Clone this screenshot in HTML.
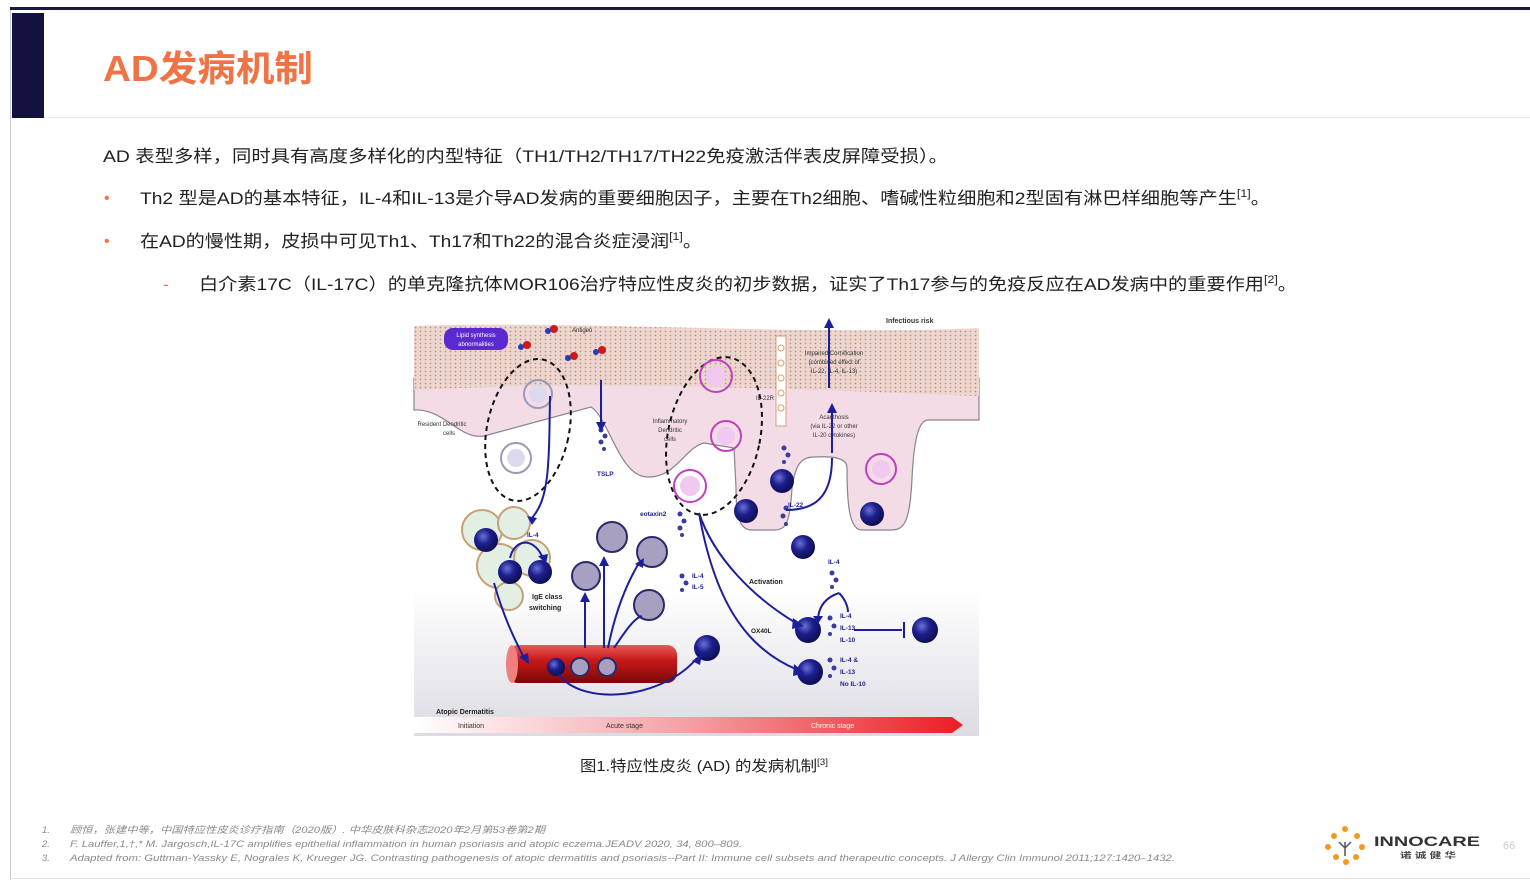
<!DOCTYPE html>
<html><head><meta charset="utf-8"><style>
html,body{margin:0;padding:0;background:#fff;}
svg{display:block;}
</style></head><body>
<svg width="1530" height="889" viewBox="0 0 1530 889" xmlns="http://www.w3.org/2000/svg" font-family="'Liberation Sans','Noto Sans CJK SC',sans-serif">
<defs>
<radialGradient id="cell" cx="0.38" cy="0.35" r="0.7"><stop offset="0" stop-color="#6a70d8"/><stop offset="0.45" stop-color="#1c1f8c"/><stop offset="1" stop-color="#0c0d4a"/></radialGradient>
<linearGradient id="bg" x1="0" y1="0" x2="0" y2="1"><stop offset="0.65" stop-color="#ffffff"/><stop offset="1" stop-color="#dcdbe3"/></linearGradient>
<linearGradient id="bar" x1="0" y1="0" x2="1" y2="0"><stop offset="0" stop-color="#fff"/><stop offset="0.5" stop-color="#f4a0a4"/><stop offset="1" stop-color="#ec1c24"/></linearGradient>
<linearGradient id="ves" x1="0" y1="0" x2="0" y2="1"><stop offset="0" stop-color="#e85a5a"/><stop offset="0.4" stop-color="#c81818"/><stop offset="1" stop-color="#7a0808"/></linearGradient>
<pattern id="dots" width="5" height="4" patternUnits="userSpaceOnUse"><rect width="5" height="4" fill="#ecd6cf"/><circle cx="1.5" cy="1.5" r="0.9" fill="#c09080"/></pattern>
</defs>
<rect x="10" y="7" width="1520" height="3" fill="#1a1a40"/>
<rect x="10" y="10" width="1" height="870" fill="#c8c8d0"/>
<rect x="12" y="13" width="32" height="105" fill="#13123f"/>
<rect x="44" y="117" width="1486" height="1" fill="#ececf0"/>
<rect x="10" y="878" width="1520" height="1" fill="#e4e4e8"/>
<text x="103" y="81" font-size="36" font-weight="bold" fill="#f07345" textLength="210" lengthAdjust="spacingAndGlyphs">AD发病机制</text>
<text x="103" y="162" font-size="17" fill="#222" textLength="845" lengthAdjust="spacingAndGlyphs">AD 表型多样，同时具有高度多样化的内型特征（TH1/TH2/TH17/TH22免疫激活伴表皮屏障受损）。</text>
<text x="104" y="203" font-size="16" fill="#f07345">•</text>
<text x="140" y="204" font-size="17" fill="#222" textLength="1130" lengthAdjust="spacingAndGlyphs">Th2 型是AD的基本特征，IL-4和IL-13是介导AD发病的重要细胞因子，主要在Th2细胞、嗜碱性粒细胞和2型固有淋巴样细胞等产生<tspan font-size="11" dy="-7">[1]</tspan><tspan dy="7">。</tspan></text>
<text x="104" y="246" font-size="16" fill="#f07345">•</text>
<text x="140" y="247" font-size="17" fill="#222" textLength="562" lengthAdjust="spacingAndGlyphs">在AD的慢性期，皮损中可见Th1、Th17和Th22的混合炎症浸润<tspan font-size="11" dy="-7">[1]</tspan><tspan dy="7">。</tspan></text>
<text x="163" y="290" font-size="17" fill="#f07345">-</text>
<text x="199" y="290" font-size="17" fill="#222" textLength="1098" lengthAdjust="spacingAndGlyphs">白介素17C（IL-17C）的单克隆抗体MOR106治疗特应性皮炎的初步数据，证实了Th17参与的免疫反应在AD发病中的重要作用<tspan font-size="11" dy="-7">[2]</tspan><tspan dy="7">。</tspan></text>

<g transform="translate(414,318)">
<rect width="565" height="418" fill="url(#bg)"/>
<path d="M0,60 L565,60 L565,102 L514,102 C505,102 500,120 498,160 C496,205 490,212 477,212 L448,212 C436,212 433,190 433,150 C433,140 420,138 400,139 C385,139 381,150 378,170 C376,205 372,212 360,212 L338,212 C326,212 322,200 322,170 L320,130 L290,125 C270,130 262,160 233,159 C205,158 195,100 177,89 L70,118 C45,122 30,90 0,92 Z" fill="#f3dce6" stroke="#8a8490" stroke-width="1.2"/>
<path d="M0,8 C150,2 400,18 565,10 L565,78 C400,72 200,62 0,72 Z" fill="url(#dots)"/>
<rect x="30" y="10" width="64" height="22" rx="9" fill="#5a2ad0"/>
<text x="62" y="19" font-size="6" fill="#fff" text-anchor="middle">Lipid synthesis</text>
<text x="62" y="28" font-size="6" fill="#fff" text-anchor="middle">abnormalities</text>
<g fill="#d01818"><circle cx="140" cy="11" r="4"/><circle cx="113" cy="27" r="4"/><circle cx="160" cy="38" r="4"/><circle cx="188" cy="32" r="4"/></g>
<g fill="#2a3ab8"><circle cx="134" cy="13" r="3"/><circle cx="107" cy="29" r="3"/><circle cx="154" cy="40" r="3"/><circle cx="182" cy="34" r="3"/></g>
<text x="158" y="14" font-size="6" fill="#333">Antigen</text>
<text x="472" y="5" font-size="7" font-weight="bold" fill="#333">Infectious risk</text>
<g stroke="#d9a070" stroke-width="1" fill="#fff"><rect x="362" y="18" width="10" height="90"/>
<circle cx="367" cy="30" r="3"/><circle cx="367" cy="45" r="3"/><circle cx="367" cy="60" r="3"/><circle cx="367" cy="75" r="3"/><circle cx="367" cy="90" r="3"/></g>
<g font-size="6" fill="#333" text-anchor="middle">
<text x="420" y="37">Impaired Cornification</text><text x="420" y="46">(combined effect of</text><text x="420" y="55">IL-22, IL-4, IL-13)</text>
<text x="420" y="101">Acanthosis</text><text x="420" y="110">(via IL-22 or other</text><text x="420" y="119">IL-20 cytokines)</text>
<text x="28" y="108">Resident Dendritic</text><text x="35" y="117">cells</text>
<text x="256" y="105">Inflammatory</text><text x="256" y="114">Dendritic</text><text x="256" y="123">cells</text>
<text x="351" y="82">IL-22R</text>
</g>
<ellipse cx="114" cy="112" rx="41" ry="72" transform="rotate(12 114 112)" fill="none" stroke="#111" stroke-width="2" stroke-dasharray="5,4"/>
<ellipse cx="300" cy="118" rx="46" ry="80" transform="rotate(12 300 118)" fill="none" stroke="#111" stroke-width="2" stroke-dasharray="5,4"/>
<g stroke-width="2" fill="none">
<g stroke="#9a9ab8"><circle cx="124" cy="76" r="14"/><circle cx="102" cy="140" r="15"/></g>
<g stroke="#c040c0"><circle cx="302" cy="58" r="16"/><circle cx="312" cy="118" r="15"/><circle cx="276" cy="168" r="16"/><circle cx="467" cy="151" r="15"/></g>
</g>
<g fill="#dcd8ee"><circle cx="124" cy="76" r="9"/><circle cx="102" cy="140" r="9"/></g>
<g fill="#f0c8f0"><circle cx="302" cy="58" r="10"/><circle cx="312" cy="118" r="9"/><circle cx="276" cy="168" r="10"/><circle cx="467" cy="151" r="9"/></g>
<g fill="#e4efe4" stroke="#c8a078" stroke-width="2"><circle cx="68" cy="212" r="20"/><circle cx="100" cy="205" r="16"/><circle cx="85" cy="248" r="22"/><circle cx="118" cy="240" r="18"/><circle cx="95" cy="278" r="14"/></g>
<rect x="94" y="327" width="169" height="38" rx="10" fill="url(#ves)"/>
<ellipse cx="98" cy="346" rx="6" ry="19" fill="#f08080"/>
<g fill="#a8a0c0" stroke="#2a2a6a" stroke-width="2"><circle cx="198" cy="219" r="15"/><circle cx="238" cy="234" r="15"/><circle cx="172" cy="258" r="14"/><circle cx="235" cy="287" r="15"/><circle cx="166" cy="349" r="9"/><circle cx="193" cy="349" r="9"/></g>
<g fill="url(#cell)"><circle cx="72" cy="222" r="12"/><circle cx="96" cy="254" r="12"/><circle cx="126" cy="254" r="12"/><circle cx="142" cy="349" r="9"/><circle cx="293" cy="330" r="13"/>
<circle cx="368" cy="163" r="12"/><circle cx="332" cy="193" r="12"/><circle cx="458" cy="196" r="12"/><circle cx="389" cy="229" r="12"/><circle cx="394" cy="312" r="13"/><circle cx="511" cy="312" r="13"/><circle cx="396" cy="354" r="13"/></g>
<g fill="#3a3aa0"><circle cx="187" cy="112" r="2.5"/><circle cx="191" cy="118" r="2.5"/><circle cx="187" cy="124" r="2.5"/><circle cx="190" cy="131" r="2"/>
<circle cx="266" cy="196" r="2.5"/><circle cx="270" cy="203" r="2.5"/><circle cx="266" cy="210" r="2.5"/><circle cx="268" cy="217" r="2"/>
<circle cx="370" cy="130" r="2.5"/><circle cx="374" cy="137" r="2.5"/><circle cx="370" cy="144" r="2"/>
<circle cx="372" cy="190" r="2.5"/><circle cx="369" cy="198" r="2.5"/><circle cx="372" cy="206" r="2"/>
<circle cx="268" cy="258" r="2.5"/><circle cx="272" cy="265" r="2.5"/><circle cx="268" cy="272" r="2"/>
<circle cx="418" cy="255" r="2.5"/><circle cx="422" cy="262" r="2.5"/><circle cx="418" cy="269" r="2"/>
<circle cx="416" cy="300" r="2.5"/><circle cx="420" cy="308" r="2.5"/><circle cx="416" cy="316" r="2"/>
<circle cx="416" cy="342" r="2.5"/><circle cx="420" cy="350" r="2.5"/><circle cx="416" cy="358" r="2"/></g>
<g stroke="#1c1f9a" stroke-width="2" fill="none">
<path d="M415,70 V8"/><path d="M418,135 V92"/><path d="M372,192 C400,192 418,180 418,140"/>
<path d="M187,62 V105"/><path d="M136,78 C135,150 135,180 118,200"/>
<path d="M96,240 C100,222 118,218 128,238"/>
<path d="M80,265 C90,300 100,320 110,340"/>
<path d="M171,330 V282"/><path d="M190,330 V246"/><path d="M194,330 C200,300 210,270 225,245"/><path d="M200,330 C210,315 220,300 228,298"/>
<path d="M144,356 C170,390 250,380 283,340"/>
<path d="M285,195 C300,240 340,280 382,305"/>
<path d="M285,195 C300,280 330,330 384,352"/>
<path d="M425,275 C410,280 405,290 404,300"/><path d="M425,275 C432,282 434,290 434,294"/>
<path d="M440,312 H488"/><path d="M490,304 V320"/>
</g>
<g fill="#1c1f9a">
<path d="M410,10 L415,0 L420,10 Z"/><path d="M413,95 L418,85 L423,95 Z"/><path d="M182,104 L187,114 L192,104 Z"/>
<path d="M113,198 L118,207 L123,200 Z"/><path d="M124,238 L132,246 L134,236 Z"/><path d="M105,339 L115,346 L114,335 Z"/>
<path d="M166,284 L171,274 L176,284 Z"/><path d="M185,248 L190,238 L195,248 Z"/><path d="M221,246 L230,240 L229,250 Z"/>
<path d="M278,343 L288,336 L286,347 Z"/><path d="M379,300 L390,308 L378,311 Z"/><path d="M380,346 L391,355 L379,358 Z"/><path d="M399,298 L404,306 L409,298 Z"/>
</g>
<g font-size="6.5" font-weight="bold" fill="#1c1f8c">
<text x="183" y="158">TSLP</text><text x="226" y="198">eotaxin2</text><text x="374" y="189">IL-22</text><text x="113" y="219">IL-4</text>
<text x="278" y="260">IL-4</text><text x="278" y="271">IL-5</text><text x="414" y="246">IL-4</text>
<text x="426" y="300">IL-4</text><text x="426" y="312">IL-13</text><text x="426" y="324">IL-10</text>
<text x="426" y="344">IL-4 &amp;</text><text x="426" y="356">IL-13</text><text x="426" y="368">No IL-10</text>
</g>
<g font-size="7" font-weight="bold" fill="#222"><text x="118" y="281">IgE class</text><text x="115" y="292">switching</text><text x="335" y="266">Activation</text><text x="337" y="315" font-size="6.5">OX40L</text></g>
<path d="M0,399 H538 L549,407 L538,415 H0 Z" fill="url(#bar)"/>
<text x="22" y="396" font-size="7" font-weight="bold" fill="#222">Atopic Dermatitis</text>
<g font-size="7" fill="#333"><text x="44" y="410">Initiation</text><text x="192" y="410">Acute stage</text><text x="397" y="410" fill="#fff">Chronic stage</text></g>
</g>

<text x="580" y="771" font-size="15" fill="#222" textLength="248" lengthAdjust="spacingAndGlyphs">图1.特应性皮炎 (AD) 的发病机制<tspan font-size="9" dy="-6">[3]</tspan></text>

<g font-size="9.5" font-style="italic" fill="#8a8a8a">
<text x="42" y="833">1.</text><text x="42" y="847">2.</text><text x="42" y="861">3.</text>
<text x="70" y="833" textLength="475" lengthAdjust="spacingAndGlyphs">顾恒，张建中等，中国特应性皮炎诊疗指南（2020版）. 中华皮肤科杂志2020年2月第53卷第2期</text>
<text x="70" y="847" textLength="672" lengthAdjust="spacingAndGlyphs">F. Lauffer,1,†,* M. Jargosch,IL-17C amplifies epithelial inflammation in human psoriasis and atopic eczema.JEADV 2020, 34, 800–809.</text>
<text x="70" y="861" textLength="1105" lengthAdjust="spacingAndGlyphs">Adapted from: Guttman-Yassky E, Nograles K, Krueger JG. Contrasting pathogenesis of atopic dermatitis and psoriasis--Part II: Immune cell subsets and therapeutic concepts. J Allergy Clin Immunol 2011;127:1420–1432.</text>
</g>
<g fill="#f39a1e"><circle cx="1345" cy="829" r="3"/><circle cx="1334" cy="836" r="3"/><circle cx="1357" cy="836" r="3"/><circle cx="1328" cy="847" r="3"/><circle cx="1362" cy="847" r="3"/><circle cx="1336" cy="857" r="3"/><circle cx="1356" cy="857" r="3"/><circle cx="1346" cy="862" r="3"/></g>
<path d="M1345,856 V842 M1345,848 L1339,842 M1345,848 L1351,842" stroke="#555" stroke-width="1.5" fill="none"/>
<text x="1374" y="846" font-size="14" font-weight="bold" fill="#333" textLength="106" lengthAdjust="spacingAndGlyphs">INNOCARE</text>
<text x="1400" y="858" font-size="8" font-weight="bold" fill="#444" textLength="56" lengthAdjust="spacingAndGlyphs">诺 诚 健 华</text>
<text x="1503" y="849" font-size="11" fill="#ccc">66</text>
</svg>
</body></html>
